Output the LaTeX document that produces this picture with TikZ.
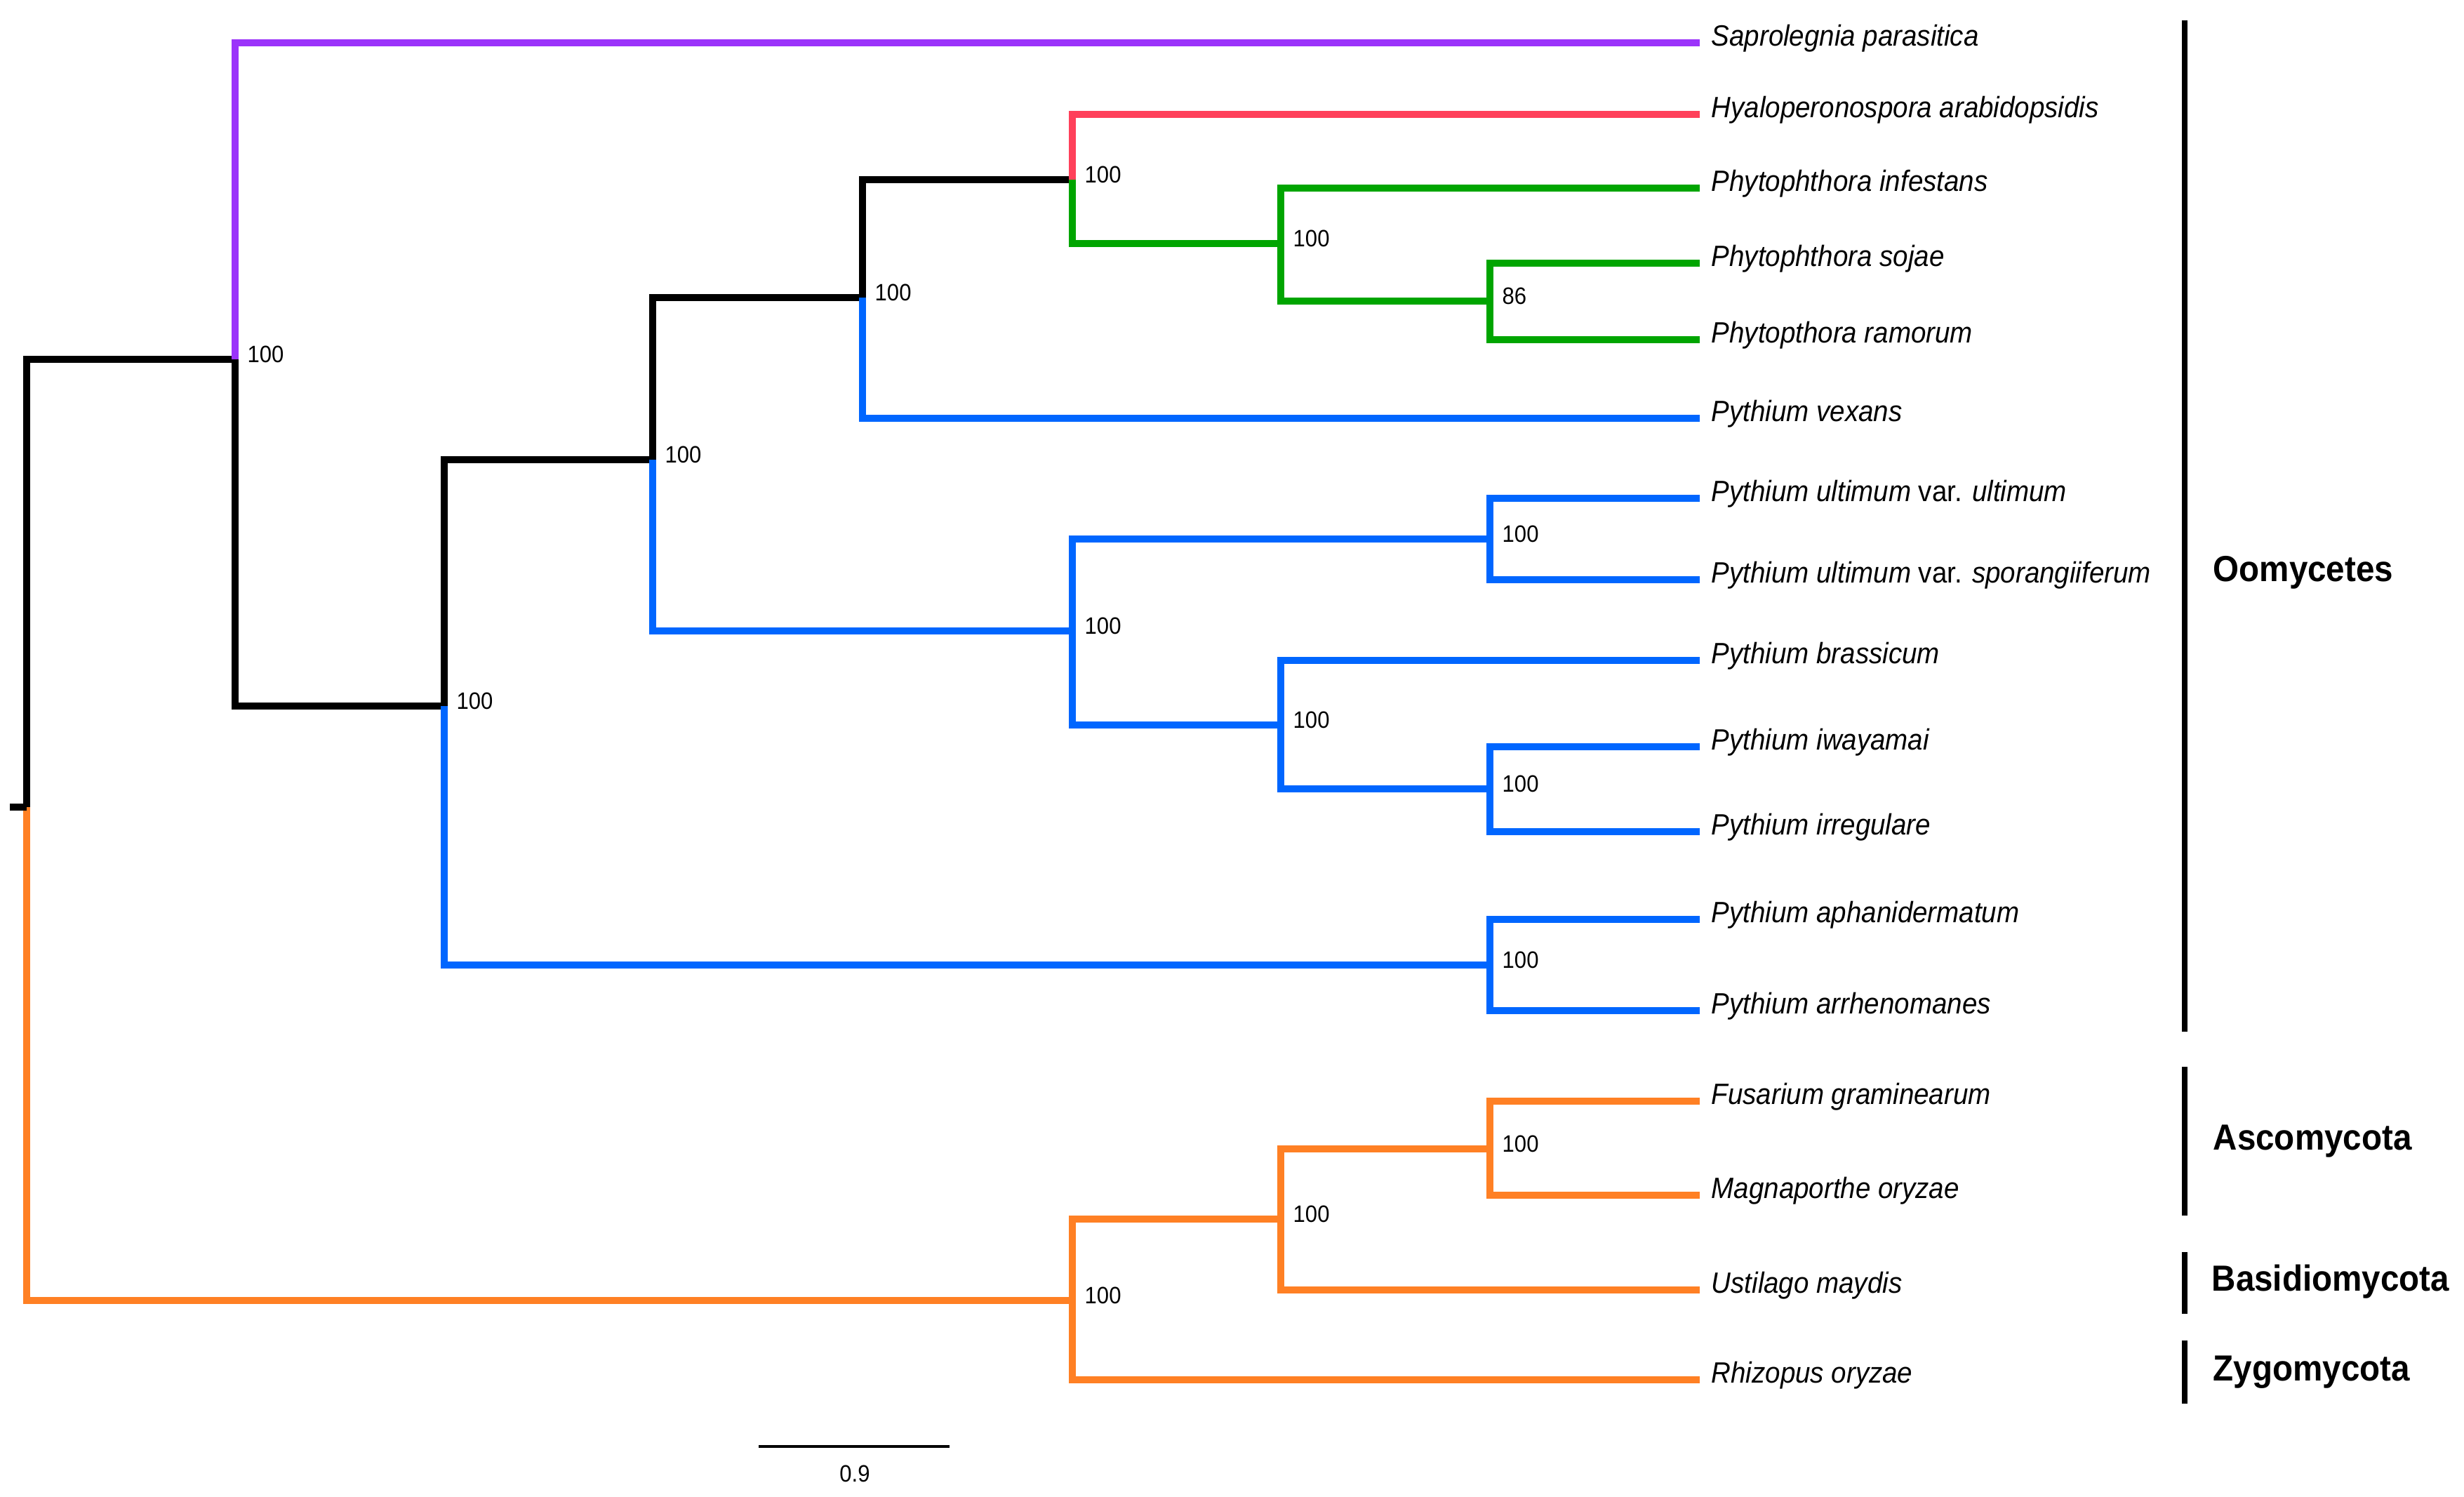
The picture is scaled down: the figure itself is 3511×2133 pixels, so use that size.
\documentclass[tikz,border=0pt]{standalone}
\usepackage{fontspec}
\setmainfont[FakeStretch=0.92]{Liberation Sans}
\usepackage{tikz}

\definecolor{sapro}{RGB}{155,51,250}
\definecolor{hyalo}{RGB}{255,64,90}
\definecolor{phyto}{RGB}{0,165,0}
\definecolor{pyth}{RGB}{0,102,255}
\definecolor{fungi}{RGB}{255,128,36}

\begin{document}
\begin{tikzpicture}[x=0.01cm, y=-0.01cm]
  \tikzset{branch/.style={line width=2.6pt},
           taxon/.style={anchor=base west, inner sep=0pt,
                         font=\fontsize{11.9}{14}\selectfont\itshape},
           boot/.style={anchor=west, inner sep=0pt,
                        font=\fontsize{9.6}{11}\selectfont},
           clade/.style={anchor=base west, inner sep=0pt,
                         font=\fontsize{14.7}{17}\selectfont\bfseries},
           cladebar/.style={line width=2.2pt}}

  \useasboundingbox (0, 0) rectangle (3511, 2133);

  % tips
  \foreach \n/\y/\t in {sap/61/Saprolegnia parasitica,
                        hya/163/Hyaloperonospora arabidopsidis,
                        inf/268/Phytophthora infestans,
                        soj/375/Phytophthora sojae,
                        ram/484/Phytopthora ramorum,
                        vex/596/Pythium vexans,
                        ult/710/Pythium ultimum \textup{var.} ultimum,
                        spo/826/Pythium ultimum \textup{var.} sporangiiferum,
                        bra/941/Pythium brassicum,
                        iwa/1064/Pythium iwayamai,
                        irr/1185/Pythium irregulare,
                        aph/1310/Pythium aphanidermatum,
                        arr/1440/Pythium arrhenomanes,
                        fus/1569/Fusarium graminearum,
                        mag/1703/Magnaporthe oryzae,
                        ust/1838/Ustilago maydis,
                        rhi/1966/Rhizopus oryzae} {
    \path (2422, \y) coordinate (\n);
    \node [taxon] (t-\n) at ([shift={(16, 4)}]\n) {\t};
  }

  % inner nodes
  \foreach \n/\x/\y in {root/38/1150, A/335/512, B/633/1006, C/930/655,
                        D/1229/424, E/1528/256, F/1825/347, G/2123/429,
                        H/1528/899, I/2123/768, J/1825/1033, K/2123/1124,
                        L/2123/1375, M/1528/1853, N/1825/1737, O/2123/1637} {
    \path (\x, \y) coordinate (\n);
  }
  \path (14, 1150) coordinate (stub);

  \foreach \a/\b/\c in {root/A/black, root/M/fungi, A/sap/sapro, A/B/black,
                        B/C/black, B/L/pyth, C/D/black, C/H/pyth,
                        D/E/black, D/vex/pyth, E/hya/hyalo, E/F/phyto,
                        F/inf/phyto, F/G/phyto, G/soj/phyto, G/ram/phyto,
                        H/I/pyth, H/J/pyth, I/ult/pyth, I/spo/pyth,
                        J/bra/pyth, J/K/pyth, K/iwa/pyth, K/irr/pyth,
                        L/aph/pyth, L/arr/pyth, M/N/fungi, M/rhi/fungi,
                        N/O/fungi, N/ust/fungi, O/fus/fungi, O/mag/fungi} {
    \draw [branch, \c] (\a) |- (\b);
  }
  \draw [branch] (root) -- (stub);

  % support values
  \foreach \n/\v in {A/100, B/100, C/100, D/100, E/100, F/100, G/86, H/100,
                     I/100, J/100, K/100, L/100, M/100, N/100, O/100} {
    \node [boot] (b-\n) at ([shift={(17, -7)}]\n) {\v};
  }

  % groups
  \draw [cladebar] (3113, 29) coordinate (oo-t) -- (3113, 1470) coordinate (oo-b);
  \draw [cladebar] (3113, 1520) coordinate (as-t) -- (3113, 1732) coordinate (as-b);
  \draw [cladebar] (3113, 1784) coordinate (ba-t) -- (3113, 1872) coordinate (ba-b);
  \draw [cladebar] (3113, 1910) coordinate (zy-t) -- (3113, 2000) coordinate (zy-b);
  \node [clade] (g-oo) at (3153, 828) {Oomycetes};
  \node [clade] (g-as) at (3153, 1638) {Ascomycota};
  \node [clade] (g-ba) at (3151, 1839) {Basidiomycota};
  \node [clade] (g-zy) at (3153, 1967) {Zygomycota};

  % scale
  \draw [line width=1pt] (1081, 2061) coordinate (sc-l) -- (1353, 2061) coordinate (sc-r);
  \node [boot, anchor=base] (sc) at (1218, 2111) {0.9};
\end{tikzpicture}
\end{document}
